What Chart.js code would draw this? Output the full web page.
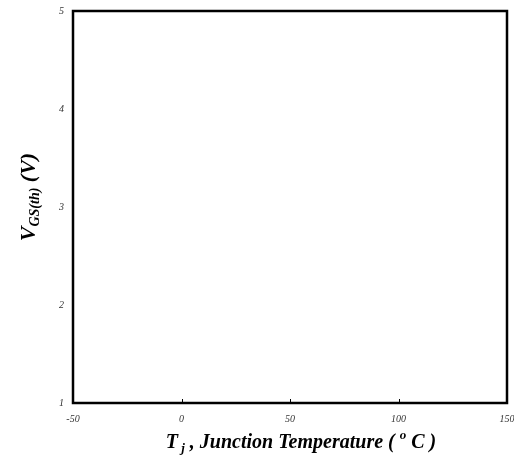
<!DOCTYPE html>
<html>
<head>
<meta charset="utf-8">
<script src="https://cdn.jsdelivr.net/npm/chart.js@4/dist/chart.umd.min.js"></script>
<style>
html,body{margin:0;padding:0;background:#fff;}
#wrap{position:relative;width:514px;height:463px;}
</style>
</head>
<body>
<div id="wrap"><canvas id="c" width="514" height="463"></canvas></div>
<script>
// Data (the reference plot contains no curves, only the frame and axes)
const xTicks = [-50, 0, 50, 100, 150];
const yTicks = [1, 2, 3, 4, 5];
const seriesPoints = [];

const xTitle = ["T", "j", " , Junction Temperature ( ", "o", " C )"];
const yTitle = ["V", "GS(th)", " (V)"];

const framePlugin = {
  id: 'frame',
  afterDraw(chart) {
    const ctx = chart.ctx;
    const a = chart.chartArea;
    const xs = chart.scales.x;
    ctx.save();
    ctx.strokeStyle = '#000';
    ctx.lineWidth = 2.5;
    ctx.strokeRect(a.left, a.top, a.right - a.left, a.bottom - a.top);
    ctx.lineWidth = 1;
    xTicks.slice(1, -1).forEach(v => {
      const px = Math.round(xs.getPixelForValue(v)) + 0.5;
      ctx.beginPath();
      ctx.moveTo(px, a.bottom);
      ctx.lineTo(px, a.bottom - 4);
      ctx.stroke();
    });
    const big = 'italic bold 20px "Liberation Serif", "DejaVu Serif", serif';
    const small = 'italic bold 13px "Liberation Serif", "DejaVu Serif", serif';
    ctx.fillStyle = '#000';
    ctx.textBaseline = 'alphabetic';
    ctx.textAlign = 'left';
    // X title
    const parts = [
      {t: xTitle[0], f: big, dy: 0},
      {t: " ", f: small, dy: 0},
      {t: xTitle[1], f: small, dy: 4},
      {t: xTitle[2], f: big, dy: 0},
      {t: xTitle[3], f: small, dy: -9},
      {t: xTitle[4], f: big, dy: 0}
    ];
    let total = 0;
    parts.forEach(p => { ctx.font = p.f; p.w = ctx.measureText(p.t).width; total += p.w; });
    let x = 301 - total / 2;
    const base = 448;
    parts.forEach(p => { ctx.font = p.f; ctx.fillText(p.t, x, base + p.dy); x += p.w; });
    // Y title (rotated)
    ctx.translate(35, 197);
    ctx.rotate(-Math.PI / 2);
    const bigY = 'italic bold 22px "Liberation Serif", "DejaVu Serif", serif';
    const smallY = 'italic bold 14px "Liberation Serif", "DejaVu Serif", serif';
    const yparts = [
      {t: yTitle[0], f: bigY, dy: 0},
      {t: yTitle[1], f: smallY, dy: 4},
      {t: yTitle[2], f: bigY, dy: 0}
    ];
    total = 0;
    yparts.forEach(p => { ctx.font = p.f; p.w = ctx.measureText(p.t).width; total += p.w; });
    x = -total / 2;
    yparts.forEach(p => { ctx.font = p.f; ctx.fillText(p.t, x, p.dy); x += p.w; });
    ctx.restore();
  }
};

const tickFont = {family: '"Liberation Serif", "DejaVu Serif", serif', size: 10, style: 'italic'};

new Chart(document.getElementById('c'), {
  type: 'scatter',
  data: { datasets: [{ data: seriesPoints, borderColor: '#000', backgroundColor: '#000' }] },
  options: {
    responsive: false,
    animation: false,
    events: [],
    layout: { padding: { top: 11, right: 7, left: 0, bottom: 0 } },
    plugins: { legend: { display: false }, tooltip: { enabled: false } },
    scales: {
      x: {
        type: 'linear', min: xTicks[0], max: xTicks[xTicks.length - 1],
        afterBuildTicks: s => { s.ticks = xTicks.map(v => ({value: v})); },
        afterFit: s => { s.height = 60; s.paddingLeft = 0; s.paddingRight = 0; },
        grid: { display: false, drawTicks: false },
        border: { display: false },
        ticks: { color: '#333', font: tickFont, padding: 10, maxRotation: 0, autoSkip: false }
      },
      y: {
        type: 'linear', min: yTicks[0], max: yTicks[yTicks.length - 1],
        afterBuildTicks: s => { s.ticks = yTicks.map(v => ({value: v})); },
        afterFit: s => { s.width = 73; s.paddingTop = 0; s.paddingBottom = 0; },
        grid: { display: false, drawTicks: false },
        border: { display: false },
        ticks: { color: '#333', font: tickFont, padding: 9, autoSkip: false }
      }
    }
  },
  plugins: [framePlugin]
});
</script>
</body>
</html>
